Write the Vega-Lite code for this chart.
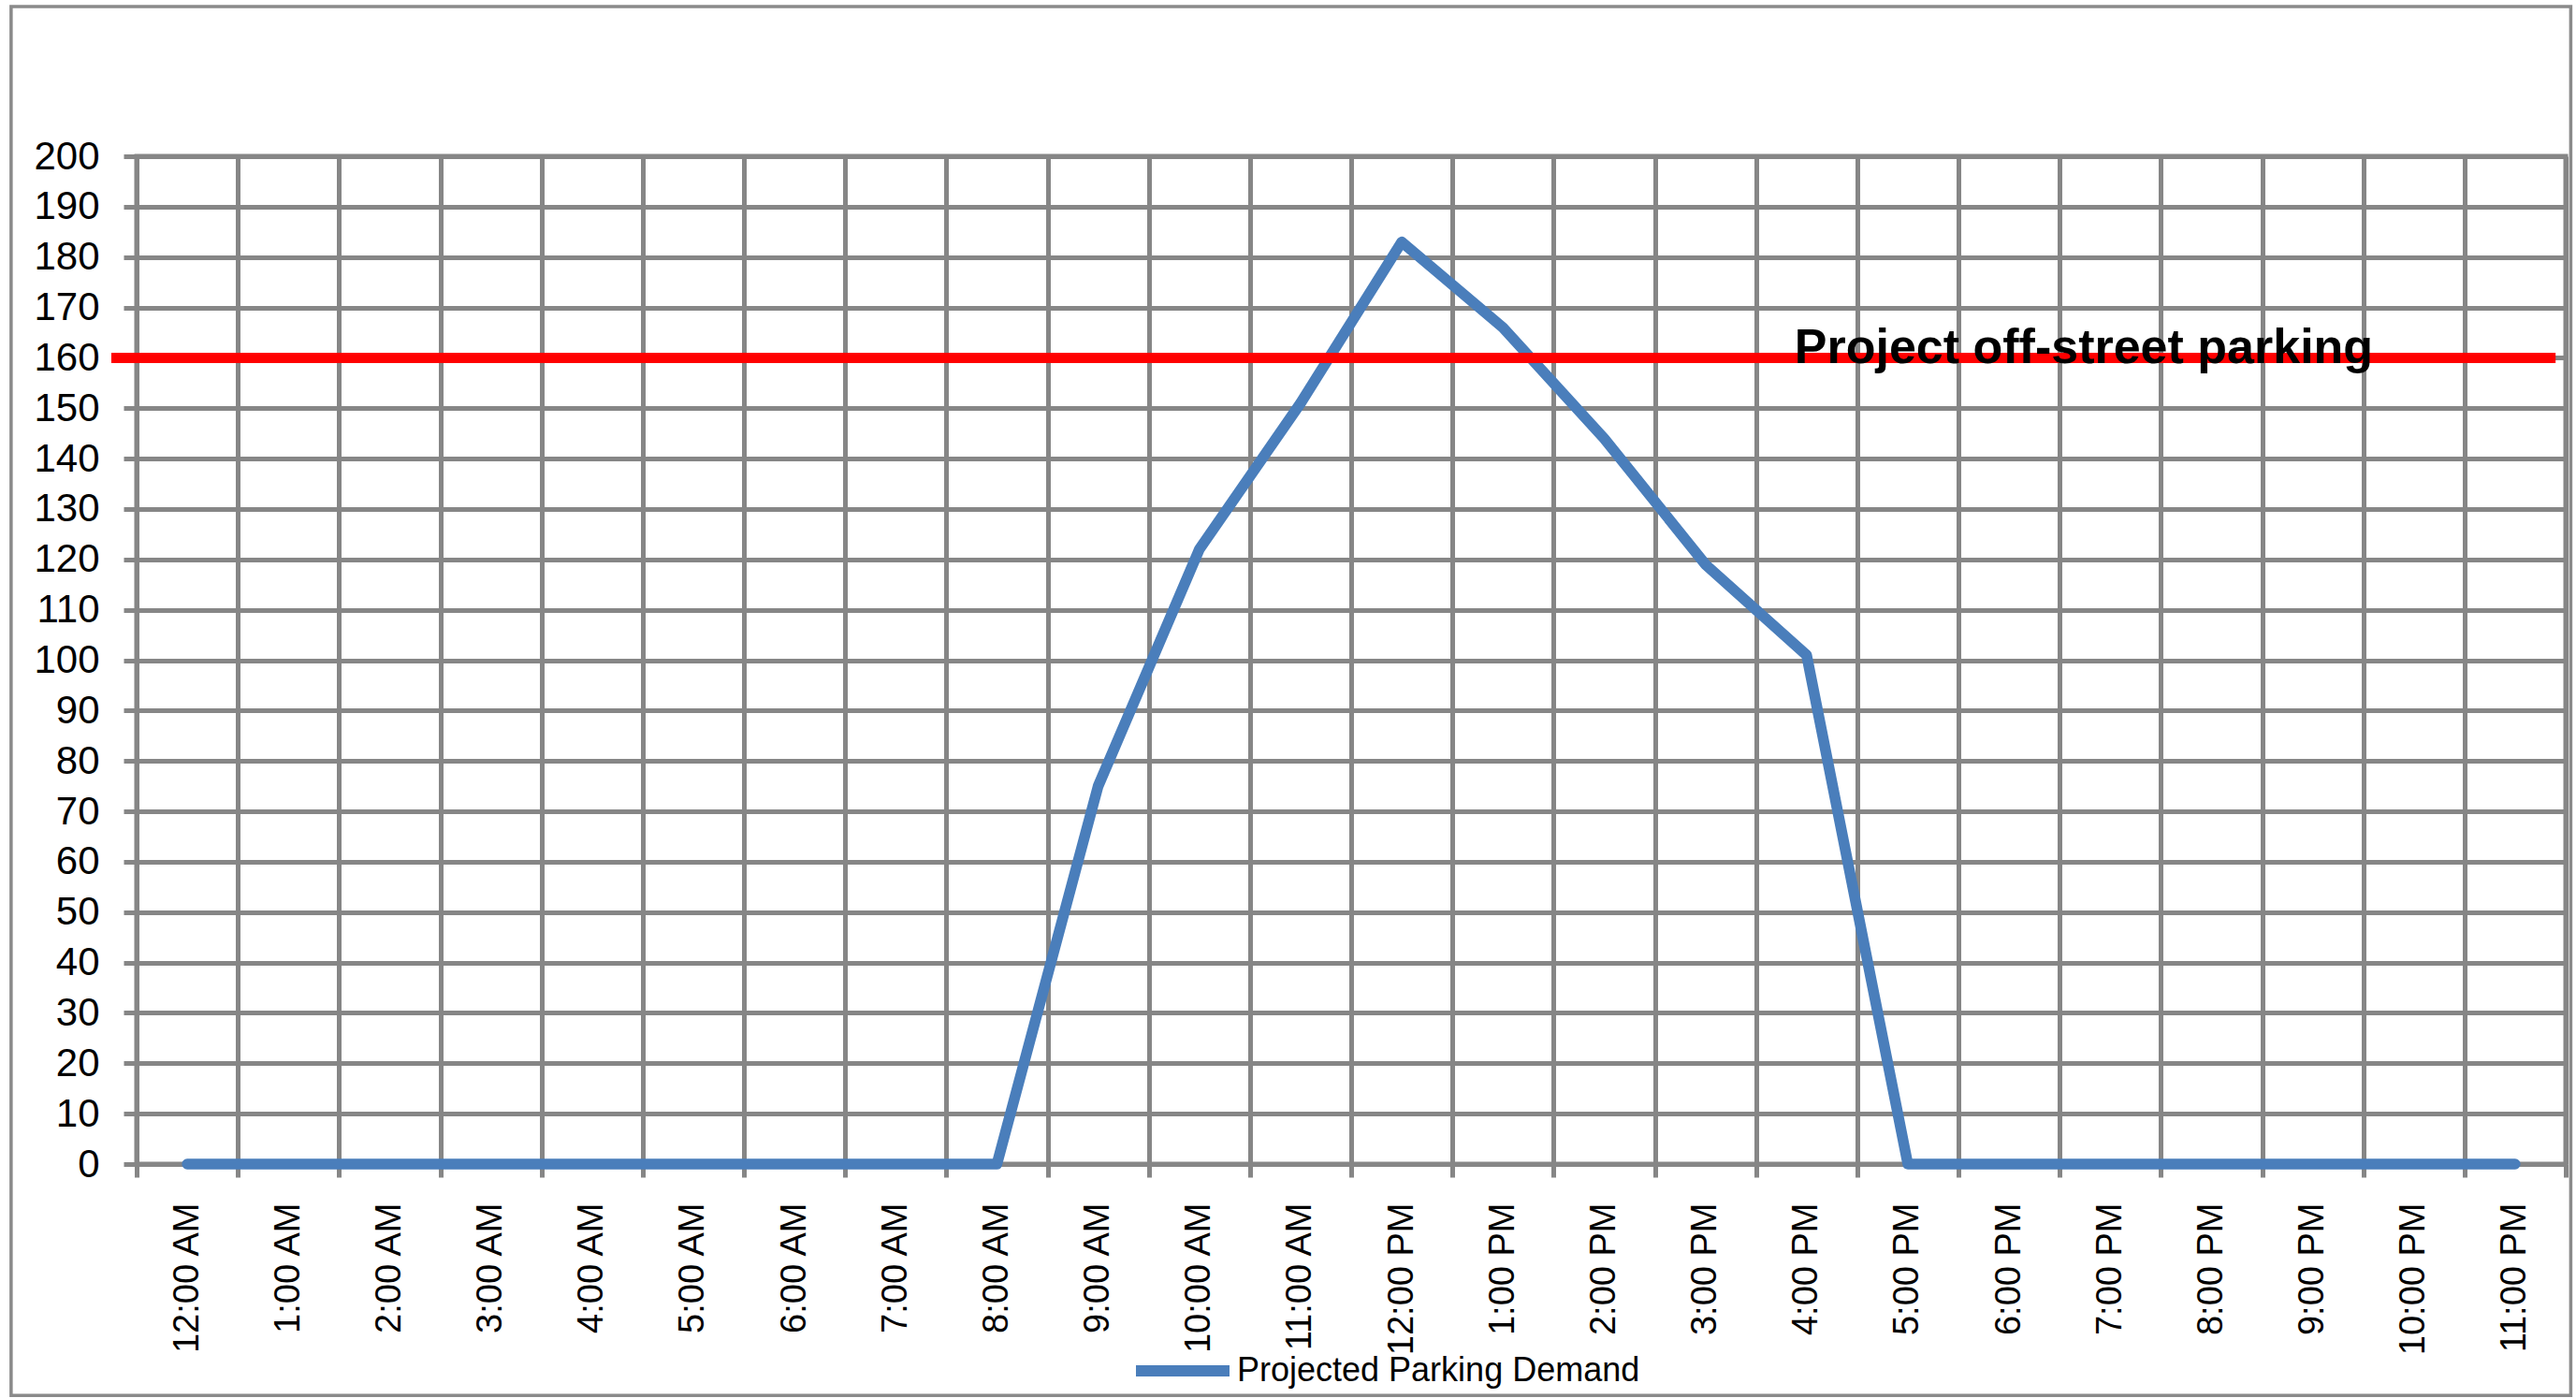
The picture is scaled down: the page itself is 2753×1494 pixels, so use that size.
{
  "$schema": "https://vega.github.io/schema/vega-lite/v6.json",
  "width": 2596,
  "height": 1077,
  "autosize": {"type": "none"},
  "padding": {"left": 146, "top": 167, "right": 11, "bottom": 250},
  "background": "#ffffff",
  "config": {
    "font": "Liberation Sans",
    "view": {"stroke": "#868686", "strokeWidth": 5},
    "axis": {
      "gridColor": "#868686",
      "gridWidth": 5,
      "gridOpacity": 1,
      "tickColor": "#868686",
      "tickWidth": 5,
      "tickSize": 14,
      "domain": false,
      "labelColor": "#000000",
      "labelFont": "Liberation Sans",
      "labelFontSize": 40,
      "title": null
    }
  },
  "datasets": {
    "demand": [
      {"hour": "12:00 AM", "vehicles": 0},
      {"hour": "1:00 AM", "vehicles": 0},
      {"hour": "2:00 AM", "vehicles": 0},
      {"hour": "3:00 AM", "vehicles": 0},
      {"hour": "4:00 AM", "vehicles": 0},
      {"hour": "5:00 AM", "vehicles": 0},
      {"hour": "6:00 AM", "vehicles": 0},
      {"hour": "7:00 AM", "vehicles": 0},
      {"hour": "8:00 AM", "vehicles": 0},
      {"hour": "9:00 AM", "vehicles": 75},
      {"hour": "10:00 AM", "vehicles": 122},
      {"hour": "11:00 AM", "vehicles": 151},
      {"hour": "12:00 PM", "vehicles": 183},
      {"hour": "1:00 PM", "vehicles": 166},
      {"hour": "2:00 PM", "vehicles": 144},
      {"hour": "3:00 PM", "vehicles": 119},
      {"hour": "4:00 PM", "vehicles": 101},
      {"hour": "5:00 PM", "vehicles": 0},
      {"hour": "6:00 PM", "vehicles": 0},
      {"hour": "7:00 PM", "vehicles": 0},
      {"hour": "8:00 PM", "vehicles": 0},
      {"hour": "9:00 PM", "vehicles": 0},
      {"hour": "10:00 PM", "vehicles": 0},
      {"hour": "11:00 PM", "vehicles": 0}
    ],
    "capacity": [
      {"label": "Project off-street parking", "spaces": 160}
    ]
  },
  "layer": [
    {
      "data": {"name": "demand"},
      "mark": {"type": "line", "strokeWidth": 11.5, "strokeCap": "round", "strokeJoin": "round"},
      "encoding": {
        "x": {
          "field": "hour",
          "type": "ordinal",
          "sort": null,
          "bandPosition": 0.5,
          "scale": {"type": "band", "paddingInner": 0, "paddingOuter": 0},
          "axis": {
            "tickBand": "extent",
            "grid": true,
            "labelAngle": -90,
            "labelAlign": "right",
            "labelBaseline": "middle",
            "labelFontSize": 38,
            "labelPadding": 27,
            "labelOverlap": false,
            "title": null
          }
        },
        "y": {
          "field": "vehicles",
          "type": "quantitative",
          "scale": {"domain": [0, 200], "nice": false, "zero": true},
          "axis": {
            "values": [0, 10, 20, 30, 40, 50, 60, 70, 80, 90, 100, 110, 120, 130, 140, 150, 160, 170, 180, 190, 200],
            "grid": true,
            "labelFontSize": 42,
            "labelPadding": 26,
            "title": null
          }
        },
        "color": {
          "datum": "Projected Parking Demand",
          "type": "nominal",
          "scale": {"range": ["#4A7EBB"]},
          "legend": {
            "orient": "none",
            "legendX": 1062,
            "legendY": 1242,
            "title": null,
            "padding": 0,
            "symbolType": "stroke",
            "symbolSize": 10000,
            "symbolStrokeWidth": 12,
            "labelFont": "Liberation Sans",
            "labelFontSize": 36,
            "labelColor": "#000000",
            "labelOffset": 2,
            "labelLimit": 0
          }
        }
      }
    },
    {
      "layer": [
        {
          "data": {"name": "capacity"},
          "mark": {"type": "rect", "filled": false, "color": "#8a8a8a", "strokeWidth": 3.5},
          "encoding": {
            "x": {"datum": -1.24, "type": "quantitative", "scale": {"domain": [0, 24], "nice": false, "zero": false}, "axis": null},
            "x2": {"datum": 24.05},
            "y": {"datum": 229.7, "type": "quantitative", "axis": {"title": null}},
            "y2": {"datum": -45.9}
          }
        },
        {
          "data": {"name": "capacity"},
          "mark": {"type": "rule", "color": "#FF0000", "strokeWidth": 11, "strokeCap": "butt"},
          "encoding": {
            "x": {"datum": -0.25, "type": "quantitative", "axis": null},
            "x2": {"datum": 23.9},
            "y": {"field": "spaces", "type": "quantitative", "axis": {"title": null}}
          }
        },
        {
          "data": {"name": "capacity"},
          "mark": {"type": "text", "align": "left", "baseline": "alphabetic", "dy": 6, "font": "Liberation Sans", "fontSize": 52, "fontWeight": "bold", "color": "#000000"},
          "encoding": {
            "x": {"datum": 16.38, "type": "quantitative", "axis": null},
            "y": {"field": "spaces", "type": "quantitative", "axis": {"title": null}},
            "text": {"field": "label"}
          }
        }
      ]
    }
  ],
  "resolve": {"scale": {"x": "independent"}}
}
